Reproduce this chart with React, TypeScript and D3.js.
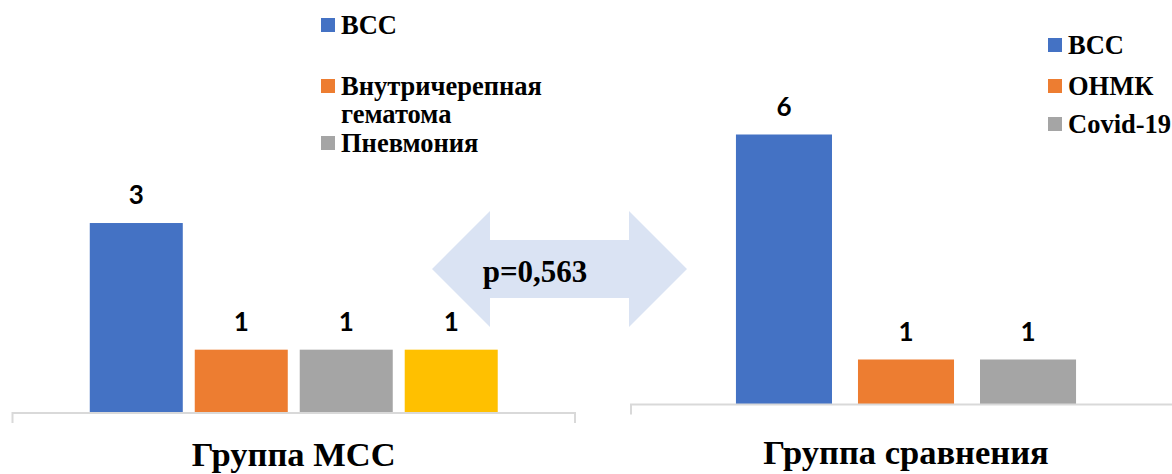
import React from "react";
import * as d3 from "d3";

// Left group: МСС
const leftCategory = "Группа МСС";
const leftKeys = ["ВСС", "Внутричерепная гематома", "Пневмония", "Прочее"];
const leftValues = [3, 1, 1, 1];
const leftLegend = [["ВСС"], ["Внутричерепная", "гематома"], ["Пневмония"]];

// Right group: comparison
const rightCategory = "Группа сравнения";
const rightKeys = ["ВСС", "ОНМК", "Covid-19"];
const rightValues = [6, 1, 1];
const rightLegend = [["ВСС"], ["ОНМК"], ["Covid-19"]];

const pLabel = "p=0,563";

const palette = ["#4472C4", "#ED7D31", "#A5A5A5", "#FFC000"];

const W = 1172;
const H = 474;
const SERIF = "'Liberation Serif', 'Times New Roman', serif";
const SANS = "Lato, 'Open Sans', sans-serif";
const AXIS = "#D9D9D9";

type PanelProps = {
  keys: string[];
  values: number[];
  x0: number;
  x1: number;
  base: number;
  top: number;
  yMax: number;
  padInner: number;
  padOuter: number;
  category: string;
  catBaseline: number;
};

function Panel(p: PanelProps) {
  const x = d3
    .scaleBand<string>()
    .domain(p.keys)
    .range([p.x0, p.x1])
    .paddingInner(p.padInner)
    .paddingOuter(p.padOuter);
  const y = d3.scaleLinear().domain([0, p.yMax]).range([p.base, p.top]);
  return (
    <g>
      {p.keys.map((k, i) => (
        <rect
          key={k}
          x={x(k)}
          y={y(p.values[i])}
          width={x.bandwidth()}
          height={y(0) - y(p.values[i])}
          fill={palette[i]}
        />
      ))}
      {p.keys.map((k, i) => (
        <text
          key={"l" + k}
          x={(x(k) as number) + x.bandwidth() / 2}
          y={y(p.values[i]) - 19}
          textAnchor="middle"
          fontFamily={SANS}
          fontWeight={700}
          fontSize={26}
          fill="#000"
        >
          {p.values[i]}
        </text>
      ))}
      <path
        d={`M${p.x0},${p.base + 10}V${p.base}H${p.x1}V${p.base + 10}`}
        fill="none"
        stroke={AXIS}
        strokeWidth={2}
      />
      <text
        x={(p.x0 + p.x1) / 2}
        y={p.catBaseline}
        textAnchor="middle"
        fontFamily={SERIF}
        fontWeight={700}
        fontSize={34.5}
        fill="#000"
      >
        {p.category}
      </text>
    </g>
  );
}

type LegendProps = {
  items: string[][];
  x: number;
  rows: number[];
  lineGap: number;
};

function Legend({ items, x, rows, lineGap }: LegendProps) {
  return (
    <g>
      {items.map((lines, i) => (
        <g key={i}>
          <rect x={x} y={rows[i] - 16} width={14} height={14} fill={palette[i]} />
          <text fontFamily={SERIF} fontWeight={700} fontSize={26.5} fill="#000">
            {lines.map((ln, j) => (
              <tspan key={j} x={x + 20} y={rows[i] + j * lineGap}>
                {ln}
              </tspan>
            ))}
          </text>
        </g>
      ))}
    </g>
  );
}

function DoubleArrow() {
  // double-headed block arrow between the two groups
  const cx0 = 432;
  const cx1 = 687;
  const cy = 269;
  const headLen = 58;
  const headHalf = 58;
  const shaftHalf = 29;
  const d = [
    [cx0, cy],
    [cx0 + headLen, cy - headHalf],
    [cx0 + headLen, cy - shaftHalf],
    [cx1 - headLen, cy - shaftHalf],
    [cx1 - headLen, cy - headHalf],
    [cx1, cy],
    [cx1 - headLen, cy + headHalf],
    [cx1 - headLen, cy + shaftHalf],
    [cx0 + headLen, cy + shaftHalf],
    [cx0 + headLen, cy + headHalf],
  ];
  return (
    <g>
      <polygon points={d.map((q) => q.join(",")).join(" ")} fill="#DAE3F3" />
      <text
        x={535}
        y={282}
        textAnchor="middle"
        fontFamily={SERIF}
        fontWeight={700}
        fontSize={31}
        fill="#000"
      >
        {pLabel}
      </text>
    </g>
  );
}

export default function App() {
  return (
    <svg
      width={W}
      height={H}
      viewBox={`0 0 ${W} ${H}`}
      style={{ position: "absolute", left: 0, top: 0, background: "#fff" }}
    >
      <rect width={W} height={H} fill="#fff" />
      <DoubleArrow />
      <Panel
        keys={leftKeys}
        values={leftValues}
        x0={12.5}
        x1={575}
        base={413}
        top={159.7}
        yMax={4}
        padInner={0.114}
        padOuter={0.736}
        category={leftCategory}
        catBaseline={465.5}
      />
      <Panel
        keys={rightKeys}
        values={rightValues}
        x0={631}
        x1={1181}
        base={404.5}
        top={89.5}
        yMax={7}
        padInner={0.213}
        padOuter={0.86}
        category={rightCategory}
        catBaseline={464}
      />
      <Legend items={leftLegend} x={321} rows={[34, 95, 152]} lineGap={27.5} />
      <Legend items={rightLegend} x={1048} rows={[54, 95, 133]} lineGap={27} />
    </svg>
  );
}
